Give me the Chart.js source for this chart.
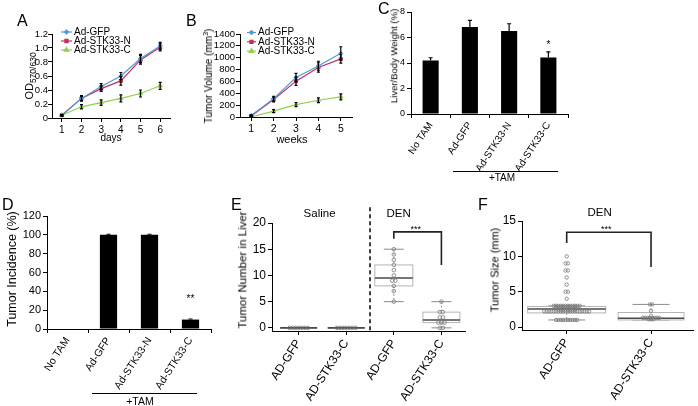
<!DOCTYPE html>
<html lang="en">
<head>
  <meta charset="UTF-8">
  <meta name="viewport" content="width=device-width, initial-scale=1.0">
  <title>STK33 panels A-F</title>
  <style>
    body { margin: 0; background: #fff; }
    #fig { position: relative; width: 698px; height: 406px; overflow: hidden;
           font-family: "Liberation Sans", Arial, sans-serif; color: #000; }
    #fig canvas { position: absolute; }
    .t { position: absolute; white-space: nowrap; line-height: 1; }
    .rot { transform: translate(-50%, -50%) rotate(-90deg); }
    .ctr { transform: translate(-50%, -50%); }
    .letter { font-size: 16px; }
    .hline { position: absolute; height: 1px; background: #000; }
    sub, sup { line-height: 0; }
  </style>
</head>
<body>
  <script src="https://cdn.jsdelivr.net/npm/chart.js"></script>
  <div id="fig">
    <canvas id="chartA" width="180" height="130" style="left:0px;top:20px"></canvas>
    <canvas id="chartB" width="178" height="130" style="left:182px;top:20px"></canvas>
    <canvas id="chartC" width="215" height="180" style="left:370px;top:0px"></canvas>
    <canvas id="chartD" width="225" height="195" style="left:0px;top:205px"></canvas>
    <canvas id="chartE" width="238" height="201" style="left:232px;top:205px"></canvas>
    <canvas id="chartF" width="218" height="201" style="left:480px;top:205px"></canvas>

    <div class="t letter" style="left:17px;top:13px">A</div>
    <div class="t letter" style="left:186px;top:13px">B</div>
    <div class="t letter" style="left:378px;top:1px">C</div>
    <div class="t letter" style="left:2px;top:197px">D</div>
    <div class="t letter" style="left:231px;top:197px">E</div>
    <div class="t letter" style="left:478px;top:197px">F</div>

    <div class="t rot" style="left:29px;top:76px;font-size:11px">OD<sub style="font-size:8.5px">570/630</sub></div>
    <div class="t rot" style="left:209px;top:76px;font-size:10px">Tumor Volume (mm<sup style="font-size:7px">3</sup>)</div>
    <div class="t rot" style="left:394px;top:56px;font-size:9.5px">Liver/Body Weight (%)</div>
    <div class="t rot" style="left:12px;top:269px;font-size:12.5px">Tumor Incidence (%)</div>
    <div class="t rot" style="left:243px;top:270px;font-size:11.5px">Tumor Number in Liver</div>
    <div class="t rot" style="left:495px;top:270px;font-size:11px">Tumor Size (mm)</div>

    <div class="t ctr" style="left:111px;top:138px;font-size:10px">days</div>
    <div class="t ctr" style="left:292px;top:139px;font-size:11px">weeks</div>

    <div class="hline" style="left:453px;top:171px;width:105px"></div>
    <div class="t ctr" style="left:502px;top:178px;font-size:10px">+TAM</div>
    <div class="hline" style="left:92px;top:393px;width:105px"></div>
    <div class="t ctr" style="left:140px;top:401px;font-size:10.5px">+TAM</div>
  </div>

<script>
  // A: cell growth, OD570/630 by day
  const dayLabels = ['1', '2', '3', '4', '5', '6'];
  const odGFP = [0.04, 0.28, 0.45, 0.60, 0.85, 1.03];
  const odN   = [0.04, 0.28, 0.42, 0.53, 0.83, 1.01];
  const odC   = [0.04, 0.16, 0.22, 0.28, 0.35, 0.46];
  const odGFPErr = [0.01, 0.03, 0.04, 0.05, 0.06, 0.05];
  const odNErr   = [0.01, 0.04, 0.04, 0.06, 0.06, 0.05];
  const odCErr   = [0.01, 0.03, 0.04, 0.05, 0.05, 0.05];
  const odTicks = ['0', '0.2', '0.4', '0.6', '0.8', '1.0', '1.2'];

  // B: tumor volume by week
  const weekLabels = ['1', '2', '3', '4', '5'];
  const volGFP = [25, 310, 665, 860, 1075];
  const volN   = [18, 295, 605, 835, 980];
  const volC   = [0, 100, 210, 283, 340];
  const volGFPErr = [10, 40, 70, 80, 110];
  const volNErr   = [10, 40, 70, 80, 70];
  const volCErr   = [5, 25, 35, 40, 50];
  const volTicks = ['0', '200', '400', '600', '800', '1000', '1200', '1400'];

  // C: liver/body weight
  const tamGroups = ['No TAM', 'Ad-GFP', 'Ad-STK33-N', 'Ad-STK33-C'];
  const liverRatio = [4.19, 6.83, 6.51, 4.43];
  const liverErr   = [0.22, 0.52, 0.57, 0.44];
  const liverStars = ['', '', '', '*'];
  const liverTicks = ['0', '2', '4', '6', '8'];

  // D: tumor incidence
  const incidence    = [0, 100, 100, 10];
  const incidenceErr = [null, 0.6, 0.6, 0.6];
  const incidenceStars = ['', '', '', '**'];
  const incidenceTicks = ['0', '20', '40', '60', '80', '100', '120'];

  // E: tumor number in liver (box plots)
  const numLabels = ['AD-GFP', 'AD-STK33-C', 'AD-GFP', 'AD-STK33-C'];
  const numMin = [0, 0, 5, 0];
  const numQ1  = [0, 0, 8, 1];
  const numMed = [0, 0, 9.5, 1.5];
  const numQ3  = [0, 0, 12, 3];
  const numMax = [0, 0, 15, 5];
  const numSalineGFP = [0, 0, 0, 0, 0, 0, 0];
  const numSalineC   = [0, 0, 0, 0, 0, 0, 0];
  const numDenGFP = [5, 7, 8, 9, 9, 10, 11, 12, 13, 14, 15];
  const numDenC   = [0, 0, 1, 1, 1, 2, 2, 3, 3, 5];
  const numTicks = ['0', '5', '10', '15', '20'];

  // F: tumor size (box plots)
  const sizeLabels = ['AD-GFP', 'AD-STK33-C'];
  const sizeMin = [1.0, 1.0];
  const sizeQ1  = [2.0, 1.0];
  const sizeMed = [2.55, 1.25];
  const sizeQ3  = [2.9, 2.05];
  const sizeMax = [3.0, 3.2];
  const sizeGFP = [10, 9, 9, 8, 8, 7, 6, 5, 5, 4,
    3, 3, 3, 3, 3, 3, 3, 3, 3, 3, 3, 3,
    2.75, 2.75, 2.75, 2.75, 2.75, 2.75, 2.75, 2.75, 2.75, 2.75,
    2.45, 2.45, 2.45, 2.45, 2.45, 2.45, 2.45, 2.45,
    2.2, 2.2, 2.2, 2.2, 2.2, 2.2, 2.2, 2.2, 2.2, 2.2,
    2.2, 2.2, 2.2, 2.2, 2.2, 2.2, 2.2, 2.2, 2.2, 2.2,
    1, 1, 1, 1, 1, 1, 1, 1, 1, 1];
  const sizeSTK = [3.2, 3.2, 2.3, 1.6, 1.3, 1.3, 1.3, 1.3, 1.3, 1.3, 1.3, 1.3, 1.1, 1.1, 1.1];
  const sizeTicks = ['0', '5', '10', '15'];

  const FONT = '"Liberation Sans", Arial, sans-serif';
  Chart.defaults.font.family = FONT;
  Chart.defaults.color = '#000';
  Chart.defaults.animation = false;
  Chart.defaults.plugins.legend.display = false;
  Chart.defaults.plugins.tooltip.enabled = false;

  const axisGrid = { drawOnChartArea: false, tickLength: 4, color: '#000', lineWidth: 1 };

  function yAxis(min, max, labels, size, width, pad) {
    return {
      min: min, max: max,
      afterBuildTicks: s => { s.ticks = labels.map(t => ({ value: parseFloat(t) })); },
      afterFit: s => { s.width = width; },
      ticks: { font: { size: size }, padding: pad == null ? 2 : pad, autoSkip: false,
               callback: (v, i) => labels[i] },
      grid: axisGrid,
      border: { color: '#000' }
    };
  }

  function xCategory(size, height, rot, tickOffset) {
    return {
      type: 'category', offset: true,
      afterFit: s => { s.height = height; },
      ticks: { font: { size: size }, padding: 2, autoSkip: false, minRotation: rot, maxRotation: rot },
      grid: Object.assign({ offset: tickOffset }, axisGrid),
      border: { color: '#000' }
    };
  }

  function xLinear(min, max, labels, size, height, rot) {
    return {
      type: 'linear', min: min, max: max,
      afterBuildTicks: s => { s.ticks = labels.map((l, i) => ({ value: i })); },
      afterFit: s => { s.height = height; },
      ticks: { font: { size: size }, padding: 2, autoSkip: false, minRotation: rot, maxRotation: rot,
               callback: (v, i) => labels[i] },
      grid: axisGrid,
      border: { color: '#000' }
    };
  }

  function starText(ctx, text, x, yc, size) {
    ctx.font = size + 'px ' + FONT;
    ctx.textAlign = 'center';
    ctx.textBaseline = 'alphabetic';
    ctx.fillText(text, x, yc + 0.58 * size);
  }

  function errorBars(errors, cap, upperOnly) {
    return {
      id: 'errorBars',
      afterDatasetsDraw(chart) {
        const ctx = chart.ctx, y = chart.scales.y;
        ctx.save();
        ctx.strokeStyle = '#000';
        ctx.lineWidth = 1.2;
        chart.data.datasets.forEach((ds, i) => {
          chart.getDatasetMeta(i).data.forEach((el, j) => {
            const e = errors[i][j];
            if (e == null) return;
            const v = ds.data[j];
            const top = y.getPixelForValue(v + e);
            const bot = upperOnly ? y.getPixelForValue(v) : y.getPixelForValue(v - e);
            ctx.beginPath();
            ctx.moveTo(el.x, top); ctx.lineTo(el.x, bot);
            ctx.moveTo(el.x - cap / 2, top); ctx.lineTo(el.x + cap / 2, top);
            if (!upperOnly) { ctx.moveTo(el.x - cap / 2, bot); ctx.lineTo(el.x + cap / 2, bot); }
            ctx.stroke();
          });
        });
        ctx.restore();
      }
    };
  }

  function lineLegend(x0, y0, rowH, lineLen) {
    return {
      id: 'lineLegend',
      afterDraw(chart) {
        const ctx = chart.ctx;
        ctx.save();
        ctx.font = '10px ' + FONT;
        ctx.textBaseline = 'middle';
        ctx.textAlign = 'left';
        chart.data.datasets.forEach((ds, i) => {
          const y = y0 + i * rowH;
          ctx.strokeStyle = ds.borderColor;
          ctx.fillStyle = ds.borderColor;
          ctx.lineWidth = 1.2;
          ctx.beginPath(); ctx.moveTo(x0, y); ctx.lineTo(x0 + lineLen, y); ctx.stroke();
          Chart.helpers.drawPoint(ctx, { pointStyle: ds.pointStyle, radius: ds.pointRadius, rotation: 0, borderWidth: 1 },
            x0 + lineLen / 2, y);
          ctx.fillStyle = '#000';
          ctx.fillText(ds.label, x0 + lineLen + 2, y);
        });
        ctx.restore();
      }
    };
  }

  function barStars(stars, errors, gap, size) {
    return {
      id: 'barStars',
      afterDatasetsDraw(chart) {
        const ctx = chart.ctx, y = chart.scales.y, ds = chart.data.datasets[0];
        ctx.save();
        ctx.fillStyle = '#000';
        chart.getDatasetMeta(0).data.forEach((el, j) => {
          if (!stars[j]) return;
          starText(ctx, stars[j], el.x, y.getPixelForValue(ds.data[j] + (errors[j] || 0)) - gap, size);
        });
        ctx.restore();
      }
    };
  }

  function boxPlots(stats, boxW, capW) {
    return {
      id: 'boxPlots',
      beforeDatasetsDraw(chart) {
        const ctx = chart.ctx, x = chart.scales.x, y = chart.scales.y;
        ctx.save();
        stats.min.forEach((mn, i) => {
          const cx = x.getPixelForValue(i);
          const pMin = y.getPixelForValue(mn), pMax = y.getPixelForValue(stats.max[i]);
          const pQ1 = y.getPixelForValue(stats.q1[i]), pQ3 = y.getPixelForValue(stats.q3[i]);
          const pMed = y.getPixelForValue(stats.med[i]);
          // whiskers
          ctx.strokeStyle = '#9a9a9a';
          ctx.lineWidth = 1;
          ctx.setLineDash([2, 2]);
          ctx.beginPath();
          ctx.moveTo(cx, pMax); ctx.lineTo(cx, pQ3);
          ctx.moveTo(cx, pQ1); ctx.lineTo(cx, pMin);
          ctx.stroke();
          ctx.setLineDash([]);
          ctx.strokeStyle = '#8c8c8c';
          ctx.beginPath();
          ctx.moveTo(cx - capW[i] / 2, pMax); ctx.lineTo(cx + capW[i] / 2, pMax);
          ctx.moveTo(cx - capW[i] / 2, pMin); ctx.lineTo(cx + capW[i] / 2, pMin);
          ctx.stroke();
          // box
          ctx.fillStyle = '#fff';
          ctx.fillRect(cx - boxW[i] / 2, pQ3, boxW[i], pQ1 - pQ3);
          ctx.strokeStyle = '#b4b4b4';
          ctx.strokeRect(cx - boxW[i] / 2, pQ3, boxW[i], pQ1 - pQ3);
          // median
          ctx.strokeStyle = '#4a4a4a';
          ctx.lineWidth = 1.6;
          ctx.beginPath();
          ctx.moveTo(cx - boxW[i] / 2, pMed); ctx.lineTo(cx + boxW[i] / 2, pMed);
          ctx.stroke();
        });
        ctx.restore();
      }
    };
  }

  // annotations for E and F: group labels, brackets, stars, divider
  function notes(spec) {
    return {
      id: 'notes',
      afterDraw(chart) {
        const ctx = chart.ctx, x = chart.scales.x, y = chart.scales.y;
        ctx.save();
        ctx.fillStyle = '#000';
        (spec.groups || []).forEach(g => {
          ctx.font = '11.5px ' + FONT;
          ctx.textAlign = 'center';
          ctx.textBaseline = 'middle';
          ctx.fillText(g.text, x.getPixelForValue(g.x), y.getPixelForValue(g.y));
        });
        if (spec.divider) {
          ctx.strokeStyle = '#000';
          ctx.lineWidth = 1.5;
          ctx.setLineDash([4, 3]);
          const dx = x.getPixelForValue(spec.divider.x);
          ctx.beginPath();
          ctx.moveTo(dx, y.getPixelForValue(spec.divider.top));
          ctx.lineTo(dx, chart.chartArea.bottom);
          ctx.stroke();
          ctx.setLineDash([]);
        }
        (spec.brackets || []).forEach(b => {
          const x1 = x.getPixelForValue(b.x1), x2 = x.getPixelForValue(b.x2);
          const top = y.getPixelForValue(b.top);
          ctx.strokeStyle = '#222';
          ctx.lineWidth = 1.6;
          ctx.beginPath();
          ctx.moveTo(x1, y.getPixelForValue(b.left));
          ctx.lineTo(x1, top);
          ctx.lineTo(x2, top);
          ctx.lineTo(x2, y.getPixelForValue(b.right));
          ctx.stroke();
          starText(ctx, b.stars, x.getPixelForValue(b.starX), y.getPixelForValue(b.starY), 9);
        });
        ctx.restore();
      }
    };
  }

  function beeswarm(groups, spacing) {
    // equal values sit side by side around the category centre
    const pts = [];
    groups.forEach((vals, c) => {
      const counts = {}, seen = {};
      vals.forEach(v => { counts[v] = (counts[v] || 0) + 1; });
      vals.forEach(v => {
        seen[v] = (seen[v] || 0) + 1;
        pts.push({ x: c + (seen[v] - 1 - (counts[v] - 1) / 2) * spacing, y: v });
      });
    });
    return pts;
  }

  const blue = '#4e9ae0', red = '#be3358', green = '#8fd14f';
  function lineSet(label, data, color, style, r) {
    return { label: label, data: data, borderColor: color, backgroundColor: color, borderWidth: 1.2,
             pointStyle: style, pointRadius: r, pointBorderWidth: 1, tension: 0 };
  }

  // ---- A
  new Chart(document.getElementById('chartA'), {
    type: 'line',
    data: {
      labels: dayLabels,
      datasets: [
        lineSet('Ad-GFP', odGFP, blue, 'rectRot', 2),
        lineSet('Ad-STK33-N', odN, red, 'rect', 2.2),
        lineSet('Ad-STK33-C', odC, green, 'triangle', 2.5)
      ]
    },
    options: {
      responsive: false,
      layout: { padding: { left: 0, top: 14, right: 10, bottom: 0 } },
      scales: { x: xCategory(10, 32, 0, false), y: yAxis(0, 1.2, odTicks, 9.5, 52, 0) }
    },
    plugins: [errorBars([odGFPErr, odNErr, odCErr], 3, false), lineLegend(61, 12, 9, 11)]
  });

  // ---- B
  new Chart(document.getElementById('chartB'), {
    type: 'line',
    data: {
      labels: weekLabels,
      datasets: [
        lineSet('Ad-GFP', volGFP, blue, 'rectRot', 2),
        lineSet('Ad-STK33-N', volN, red, 'rect', 2.2),
        lineSet('Ad-STK33-C', volC, green, 'triangle', 2.5)
      ]
    },
    options: {
      responsive: false,
      layout: { padding: { left: 0, top: 14, right: 8, bottom: 0 } },
      scales: { x: xCategory(10.5, 33, 0, false), y: yAxis(0, 1400, volTicks, 9.5, 58, 1) }
    },
    plugins: [errorBars([volGFPErr, volNErr, volCErr], 3, false), lineLegend(65, 12.5, 9.3, 9)]
  });

  // ---- C
  new Chart(document.getElementById('chartC'), {
    type: 'bar',
    data: { labels: tamGroups, datasets: [{ data: liverRatio, backgroundColor: '#000',
            barPercentage: 0.41, categoryPercentage: 1 }] },
    options: {
      responsive: false,
      layout: { padding: { left: 0, top: 12, right: 17, bottom: 0 } },
      scales: { x: xCategory(10, 66, 57, true), y: yAxis(0, 8, liverTicks, 9, 41) }
    },
    plugins: [errorBars([liverErr], 4, true), barStars(liverStars, liverErr, 10, 10)]
  });

  // ---- D
  new Chart(document.getElementById('chartD'), {
    type: 'bar',
    data: { labels: tamGroups, datasets: [{ data: incidence, backgroundColor: '#000',
            barPercentage: 0.42, categoryPercentage: 1 }] },
    options: {
      responsive: false,
      layout: { padding: { left: 0, top: 11, right: 14, bottom: 0 } },
      scales: { x: xCategory(10.5, 71, 57, true), y: yAxis(0, 120, incidenceTicks, 11, 47) }
    },
    plugins: [errorBars([incidenceErr], 4, true), barStars(incidenceStars, incidenceErr, 23, 10)]
  });

  // ---- E
  new Chart(document.getElementById('chartE'), {
    type: 'scatter',
    data: { datasets: [{ data: beeswarm([numSalineGFP, numSalineC, numDenGFP, numDenC], 0.065),
            pointRadius: 1.8, pointBorderWidth: 0.8, borderColor: '#777',
            backgroundColor: 'rgba(255,255,255,0)' }] },
    options: {
      responsive: false,
      layout: { padding: { left: 0, top: 18, right: 3, bottom: 0 } },
      scales: { x: xLinear(-0.56, 3.5, numLabels, 12, 75, 57), y: yAxis(-0.6, 20, numTicks, 12, 40) }
    },
    plugins: [
      boxPlots({ min: numMin, q1: numQ1, med: numMed, q3: numQ3, max: numMax }, [37, 37, 38, 37], [20, 20, 20, 20]),
      notes({
        groups: [{ text: 'Saline', x: 0.44, y: 21.7 }, { text: 'DEN', x: 2.1, y: 21.7 }],
        divider: { x: 1.5, top: 23 },
        brackets: [{ x1: 2, x2: 3, top: 18.3, left: 17, right: 12, stars: '***', starX: 2.46, starY: 19.3 }]
      })
    ]
  });

  // ---- F
  new Chart(document.getElementById('chartF'), {
    type: 'scatter',
    data: { datasets: [{ data: beeswarm([sizeGFP, sizeSTK], 0.028),
            pointRadius: 1.7, pointBorderWidth: 0.8, borderColor: '#777',
            backgroundColor: 'rgba(255,255,255,0)' }] },
    options: {
      responsive: false,
      layout: { padding: { left: 0, top: 16, right: 3, bottom: 0 } },
      scales: { x: xLinear(-0.53, 1.5, sizeLabels, 12, 76, 57), y: yAxis(-0.42, 15, sizeTicks, 12, 42) }
    },
    plugins: [
      boxPlots({ min: sizeMin, q1: sizeQ1, med: sizeMed, q3: sizeQ3, max: sizeMax }, [78, 66], [37, 37]),
      notes({
        groups: [{ text: 'DEN', x: 0.39, y: 16.1 }],
        brackets: [{ x1: 0, x2: 1, top: 13.4, left: 11.9, right: 8.5, stars: '***', starX: 0.47, starY: 14.2 }]
      })
    ]
  });
</script>
</body>
</html>
